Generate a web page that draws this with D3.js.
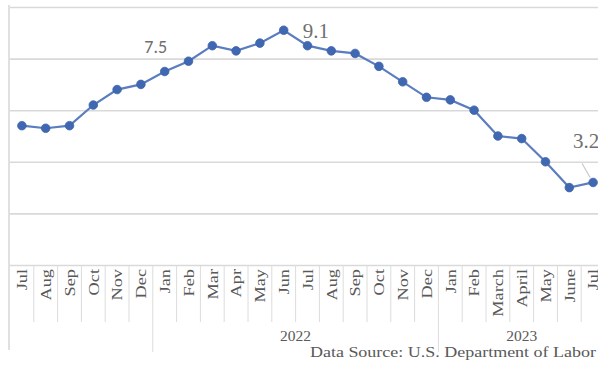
<!DOCTYPE html>
<html>
<head>
<meta charset="utf-8">
<script src="https://cdn.jsdelivr.net/npm/d3@7"></script>
<style>
  html, body { margin: 0; padding: 0; background: #fff; }
  svg { display: block; }
</style>
</head>
<body>
<svg id="chart" width="598" height="365"></svg>
<script>
// US CPI, 12-month percent change, Jul 2021 – Jul 2023
const months = ["Jul","Aug","Sep","Oct","Nov","Dec",
                "Jan","Feb","Mar","Apr","May","Jun","Jul","Aug","Sep","Oct","Nov","Dec",
                "Jan","Feb","March","April","May","June","Jul"];
const cpi = [5.4,5.3,5.4,6.2,6.8,7.0,
             7.5,7.9,8.5,8.3,8.6,9.1,8.5,8.3,8.2,7.7,7.1,6.5,
             6.4,6.0,5.0,4.9,4.0,3.0,3.2];
const yearLabels = ["", "2022", "2023"];
const yearStarts = [0, 6, 18];
const yTicks = [0, 2, 4, 6, 8, 10];
// points whose value is written next to them
const labelled = [6, 11, 24];
const source = "Data Source: U.S. Department of Labor";

const svg = d3.select("#chart");
const plotLeft = 10, plotRight = 605, plotTop = 7, plotBottom = 265;
const serif = "'Liberation Serif', 'DejaVu Serif', serif";

const x = d3.scaleBand().domain(d3.range(months.length)).range([plotLeft, plotRight]);
const y = d3.scaleLinear().domain([0, 10]).range([plotBottom, plotTop]);
const cx = i => x(i) + x.bandwidth() / 2;

// horizontal gridlines
svg.append("g")
  .attr("transform", `translate(${plotLeft},0)`)
  .call(d3.axisLeft(y).tickValues(yTicks).tickSize(-(plotRight - plotLeft)).tickFormat(""))
  .call(g => g.select(".domain").remove())
  .call(g => g.selectAll(".tick line").attr("stroke", "#d9d9d9").attr("stroke-width", 1.6));

// left edge of the category axis
svg.append("line")
  .attr("x1", plotLeft - 1).attr("x2", plotLeft - 1)
  .attr("y1", 5).attr("y2", 350)
  .attr("stroke", "#d9d9d9").attr("stroke-width", 1.6);

// month separators and labels
const yearEdgeSet = new Set(yearStarts.slice(1));
svg.append("g").selectAll("line")
  .data(d3.range(1, months.length))
  .join("line")
  .attr("x1", i => x(i)).attr("x2", i => x(i))
  .attr("y1", plotBottom)
  .attr("y2", i => yearEdgeSet.has(i) ? 352 : 322)
  .attr("stroke", "#dcdcdc").attr("stroke-width", 1);

svg.append("g").selectAll("text")
  .data(months)
  .join("text")
  .attr("transform", (d, i) => `translate(${cx(i)},${plotBottom + 4}) rotate(-90) scale(1.22,1)`)
  .attr("dy", "0.35em")
  .attr("text-anchor", "end")
  .attr("font-family", serif)
  .attr("font-size", 15)
  .attr("fill", "#595959")
  .text(d => d);

// year labels centred under their groups
svg.append("g").selectAll("text")
  .data(yearLabels)
  .join("text")
  .attr("x", (d, k) => {
    const s = yearStarts[k];
    const e = k + 1 < yearStarts.length ? yearStarts[k + 1] : months.length;
    return (x(s) + (e < months.length ? x(e) : plotRight)) / 2;
  })
  .attr("y", 341)
  .attr("text-anchor", "middle")
  .attr("font-family", serif)
  .attr("font-size", 15.5)
  .attr("fill", "#595959")
  .text(d => d);

// the series line and markers
svg.append("path")
  .datum(cpi)
  .attr("fill", "none")
  .attr("stroke", "#5b7dc0")
  .attr("stroke-width", 2.2)
  .attr("d", d3.line().x((d, i) => cx(i)).y(d => y(d)));

svg.append("g").selectAll("circle")
  .data(cpi)
  .join("circle")
  .attr("cx", (d, i) => cx(i))
  .attr("cy", d => y(d))
  .attr("r", 4.3)
  .attr("fill", "#4068b2")
  .attr("stroke", "#3d63ab")
  .attr("stroke-width", 0.8);

// value labels
const labelStyle = [
  { dx: -9, dy: -19, family: "Calibri, 'Carlito', 'Liberation Sans', sans-serif", size: 18, anchor: "middle" },
  { dx: 19, dy: 8, family: serif, size: 21, anchor: "start" },
  { dx: -20, dy: -34, family: serif, size: 21, anchor: "start" }
];
labelled.forEach((i, k) => {
  const s = labelStyle[k];
  svg.append("text")
    .attr("x", cx(i) + s.dx)
    .attr("y", y(cpi[i]) + s.dy)
    .attr("text-anchor", s.anchor)
    .attr("font-family", s.family)
    .attr("font-size", s.size)
    .attr("fill", "#6f6f6f")
    .text(cpi[i].toFixed(1));
});
// leader line for the last label
const last = labelled[2];
svg.append("line")
  .attr("x1", cx(last) - 11).attr("y1", y(cpi[last]) - 19)
  .attr("x2", cx(last) - 3).attr("y2", y(cpi[last]) - 5)
  .attr("stroke", "#c8c8c8").attr("stroke-width", 1.2);

// source note
svg.append("text")
  .attr("transform", "translate(596,357) scale(1.2,1)")
  .attr("text-anchor", "end")
  .attr("font-family", serif)
  .attr("font-size", 15)
  .attr("fill", "#595959")
  .text(source);
</script>
</body>
</html>
